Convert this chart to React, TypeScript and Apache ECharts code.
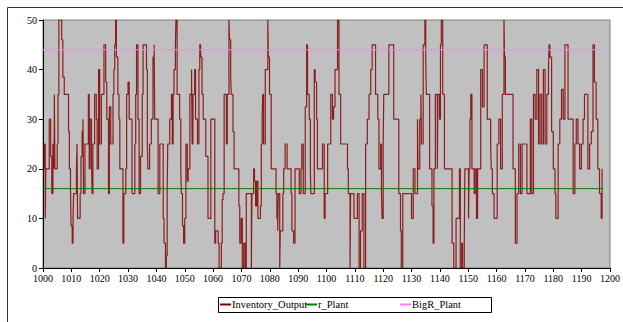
import React, { useEffect, useRef } from "react";
import * as echarts from "echarts";

// Inventory_Output: times at which the (step) value changes, and the values
const stepTimes: number[] = [
  1000.0, 1000.4, 1000.8, 1001.0, 1002.2, 1002.7, 1003.1, 1003.5, 1003.9, 1004.0,
  1004.2, 1005.0, 1005.3, 1005.6, 1006.6, 1007.0, 1007.5, 1009.0, 1009.3, 1009.7,
  1009.9, 1010.3, 1010.6, 1010.8, 1011.8, 1012.0, 1012.2, 1013.1, 1013.4, 1013.8,
  1014.1, 1014.3, 1014.8, 1016.0, 1016.3, 1016.6, 1017.1, 1017.3, 1017.6, 1018.2,
  1018.8, 1019.1, 1019.6, 1020.0, 1020.6, 1021.5, 1022.1, 1022.5, 1023.1, 1023.4,
  1023.9, 1024.7, 1025.0, 1025.3, 1025.6, 1025.9, 1026.4, 1026.8, 1027.1, 1028.2,
  1028.5, 1029.2, 1029.5, 1030.0, 1030.4, 1031.4, 1032.4, 1032.7, 1033.0, 1033.5,
  1033.9, 1034.4, 1035.0, 1035.3, 1036.5, 1036.8, 1037.0, 1037.6, 1038.2, 1038.8,
  1039.2, 1039.4, 1040.6, 1041.2, 1042.4, 1042.7, 1043.2, 1043.5, 1043.8, 1044.0,
  1044.7, 1045.3, 1045.6, 1045.9, 1046.2, 1046.7, 1046.9, 1047.3, 1048.2, 1048.6,
  1048.8, 1049.2, 1049.6, 1050.0, 1050.4, 1050.9, 1051.2, 1051.8, 1052.4, 1052.6,
  1052.9, 1053.5, 1053.8, 1054.5, 1055.0, 1055.3, 1055.6, 1056.1, 1056.5, 1057.4,
  1058.2, 1059.2, 1060.6, 1060.9, 1061.8, 1062.1, 1062.9, 1063.2, 1063.5, 1063.9,
  1064.7, 1065.0, 1065.6, 1065.8, 1066.2, 1066.4, 1067.0, 1067.4, 1069.1, 1069.4,
  1069.9, 1070.3, 1070.8, 1071.3, 1071.7, 1073.5, 1073.7, 1074.3, 1074.6, 1075.0,
  1075.4, 1075.8, 1076.7, 1077.0, 1077.3, 1077.5, 1077.8, 1078.4, 1079.3, 1079.5,
  1079.9, 1080.5, 1082.2, 1082.5, 1082.8, 1083.0, 1083.5, 1083.7, 1084.6, 1084.9,
  1085.4, 1086.1, 1087.5, 1087.8, 1088.4, 1088.9, 1090.4, 1091.0, 1091.3, 1091.8,
  1092.5, 1093.0, 1093.3, 1093.9, 1094.3, 1094.5, 1095.7, 1096.0, 1096.5, 1096.8,
  1098.6, 1099.2, 1099.5, 1100.4, 1101.5, 1102.1, 1102.5, 1103.0, 1103.9, 1104.4,
  1105.0, 1107.4, 1107.7, 1108.3, 1108.5, 1109.7, 1110.9, 1111.5, 1112.0, 1112.6,
  1113.2, 1113.8, 1114.4, 1115.0, 1115.6, 1116.1, 1117.3, 1118.1, 1118.5, 1119.1,
  1119.4, 1119.6, 1120.0, 1120.2, 1122.0, 1123.7, 1125.5, 1126.1, 1126.4, 1126.9,
  1128.8, 1130.0, 1130.6, 1131.2, 1132.1, 1132.3, 1132.9, 1133.3, 1133.5, 1134.1,
  1134.7, 1135.0, 1135.2, 1136.4, 1137.2, 1137.6, 1137.9, 1138.4, 1139.1, 1139.3,
  1139.9, 1140.2, 1140.5, 1141.0, 1141.6, 1144.3, 1144.9, 1145.7, 1146.9, 1147.2,
  1147.7, 1148.0, 1148.6, 1148.8, 1150.1, 1150.3, 1150.6, 1150.9, 1151.3, 1152.1,
  1152.4, 1152.9, 1153.3, 1154.4, 1155.0, 1155.6, 1156.7, 1157.9, 1158.1, 1158.5,
  1159.1, 1160.2, 1160.8, 1161.4, 1162.0, 1162.6, 1162.8, 1163.1, 1165.8, 1166.6,
  1167.2, 1167.8, 1168.4, 1169.0, 1170.7, 1171.9, 1172.4, 1173.0, 1173.6, 1174.2,
  1174.8, 1175.3, 1175.9, 1176.5, 1177.1, 1177.7, 1178.3, 1178.5, 1178.8, 1179.4,
  1180.0, 1180.6, 1180.9, 1181.7, 1182.3, 1182.9, 1183.5, 1184.1, 1185.2, 1187.0,
  1187.6, 1188.1, 1188.7, 1189.3, 1189.9, 1190.5, 1191.0, 1192.2, 1192.8, 1193.4,
  1194.0, 1194.5, 1195.1, 1195.7, 1196.3, 1196.9, 1197.2, 1197.4,
];

const inventoryOutput: number[] = [
  20, 25, 10, 20, 30, 22.5, 15, 25, 20, 35,
  20, 25, 35, 50, 46, 38.5, 35, 27.5, 20, 16,
  8.5, 5, 10, 15, 20, 25, 10, 15, 22.5, 27.5,
  30, 15, 25, 35, 20, 30, 22.5, 15, 25, 35,
  30, 20, 40, 25, 35, 45, 37.5, 30, 15, 32.5,
  25, 35, 40, 45, 50, 42.5, 35, 30, 20, 5,
  15, 20, 35, 37.5, 30, 15, 25, 35, 45, 30,
  15, 22.5, 35, 45, 40, 25, 20, 25, 30, 42.5,
  45, 30, 15, 25, 10, 5, 0, 2.5, 15, 25,
  30, 35, 25, 35, 40, 45, 50, 35, 30, 20,
  15, 8.5, 5, 10, 25, 17.5, 20, 35, 40, 25,
  35, 40, 30, 25, 40, 45, 42.5, 35, 30, 22.5,
  10, 30, 5, 7.5, 5, 0, 5, 13.8, 15, 35,
  25, 35, 50, 46, 38.5, 35, 27.5, 20, 12.5, 5,
  10, 0, 5, 0, 15, 0, 15, 20, 17.5, 12.5,
  17.5, 10, 12.5, 25, 30, 35, 25, 40, 50, 42.5,
  35, 20, 15, 10, 7.5, 15, 0, 7.5, 15, 20,
  25, 20, 15, 7.5, 5, 20, 15, 20, 25, 15,
  32.5, 45, 35, 30, 20, 15, 40, 37.5, 30, 20,
  25, 10, 15, 25, 35, 30, 32.5, 40, 50, 35,
  25, 20, 15, 0, 15, 10, 15, 0, 7.5, 15,
  0, 25, 30, 35, 40, 45, 35, 30, 20, 25,
  15, 10, 25, 35, 45, 30, 15, 7.5, 0, 15,
  15, 10, 20, 15, 30, 20, 30, 35, 25, 45,
  50, 42.5, 35, 20, 12.5, 5, 20, 35, 20, 35,
  30, 45, 50, 35, 20, 5, 0, 10, 20, 0,
  5, 0, 5, 20, 10, 20, 30, 35, 20, 15,
  20, 10, 20, 40, 32.5, 45, 30, 25, 20, 15,
  10, 25, 30, 20, 35, 50, 42.5, 35, 20, 5,
  15, 25, 15, 25, 15, 30, 15, 35, 30, 40,
  25, 35, 25, 40, 25, 35, 40, 45, 42.5, 27.5,
  20, 15, 10, 25, 30, 36, 30, 45, 30, 15,
  25, 30, 25, 20, 25, 30, 35, 20, 25, 27.5,
  45, 37.5, 30, 20, 15, 10, 20, 20,
];

const rPlant: number = 16;
const bigRPlant: number = 44;
const seriesNames: string[] = ["Inventory_Output", "r_Plant", "BigR_Plant"];
const xTicks = { min: 1000, max: 1200, interval: 10 };
const yTicks = { min: 0, max: 50, interval: 10 };

const FONT = "'Liberation Serif', 'DejaVu Serif', serif";
const legendLefts = [220, 306, 400];

export default function App() {
  const ref = useRef<HTMLDivElement>(null);
  useEffect(() => {
    if (!ref.current) return;
    const chart = echarts.init(ref.current, undefined, { renderer: "svg" });
    const endT = stepTimes[stepTimes.length - 1];
    const inv = stepTimes.map((t, i) => [t, inventoryOutput[i]]);
    const legends = seriesNames.map((name, i) => ({
      left: legendLefts[i],
      top: 299,
      orient: "horizontal",
      itemWidth: 11,
      itemHeight: 2,
      itemGap: 0,
      itemTextGap: 1,
      itemStyle: { borderWidth: 0 },
      icon: "rect",
      padding: 0,
      selectedMode: false,
      textStyle: {
        fontFamily: FONT,
        fontSize: 10.5,
        color: "#000000",
        padding: [0, 0, 0, -4],
      },
      data: [name],
    }));
    chart.setOption({
      animation: false,
      backgroundColor: "#ffffff",
      graphic: [
        {
          type: "rect",
          shape: { x: 7.5, y: 7.5, width: 640, height: 340 },
          style: { fill: "none", stroke: "#333333", lineWidth: 1 },
          silent: true,
          z: -1,
        },
        {
          type: "rect",
          shape: { x: 218.5, y: 297.5, width: 273, height: 15 },
          style: { fill: "#ffffff", stroke: "#000000", lineWidth: 1 },
          silent: true,
          z: -1,
        },
      ],
      grid: {
        left: 43,
        top: 20,
        right: 10,
        bottom: 54,
        show: true,
        backgroundColor: "#c0c0c0",
        borderColor: "#808080",
        borderWidth: 1,
      },
      legend: legends,
      xAxis: {
        type: "value",
        min: xTicks.min,
        max: xTicks.max,
        interval: xTicks.interval,
        axisLine: { lineStyle: { color: "#000000", width: 1 } },
        axisTick: { show: true, length: 4, lineStyle: { color: "#000000" } },
        axisLabel: {
          fontFamily: FONT,
          fontSize: 10,
          color: "#000000",
          margin: 5,
          formatter: (v: number) => String(v),
        },
        splitLine: { show: false },
      },
      yAxis: {
        type: "value",
        min: yTicks.min,
        max: yTicks.max,
        interval: yTicks.interval,
        axisLine: { show: true, lineStyle: { color: "#000000", width: 1 } },
        axisTick: { show: true, length: 4, lineStyle: { color: "#000000" } },
        axisLabel: { fontFamily: FONT, fontSize: 10, color: "#000000", margin: 6 },
        splitLine: { show: false },
      },
      series: [
        {
          name: seriesNames[0],
          type: "line",
          step: "end",
          data: inv,
          showSymbol: false,
          color: "#800000",
          lineStyle: { color: "#800000", width: 1.2, opacity: 0.85 },
          z: 2,
        },
        {
          name: seriesNames[1],
          type: "line",
          data: [
            [xTicks.min, rPlant],
            [endT, rPlant],
          ],
          showSymbol: false,
          color: "#008000",
          lineStyle: { color: "#008000", width: 1 },
          z: 3,
        },
        {
          name: seriesNames[2],
          type: "line",
          data: [
            [xTicks.min, bigRPlant],
            [endT, bigRPlant],
          ],
          showSymbol: false,
          color: "#ff80ff",
          lineStyle: { color: "#ff80ff", width: 1 },
          z: 3,
        },
      ],
    });
    return () => chart.dispose();
  }, []);
  return (
    <div
      ref={ref}
      style={{ position: "absolute", left: 0, top: 0, width: 623, height: 322 }}
    />
  );
}
